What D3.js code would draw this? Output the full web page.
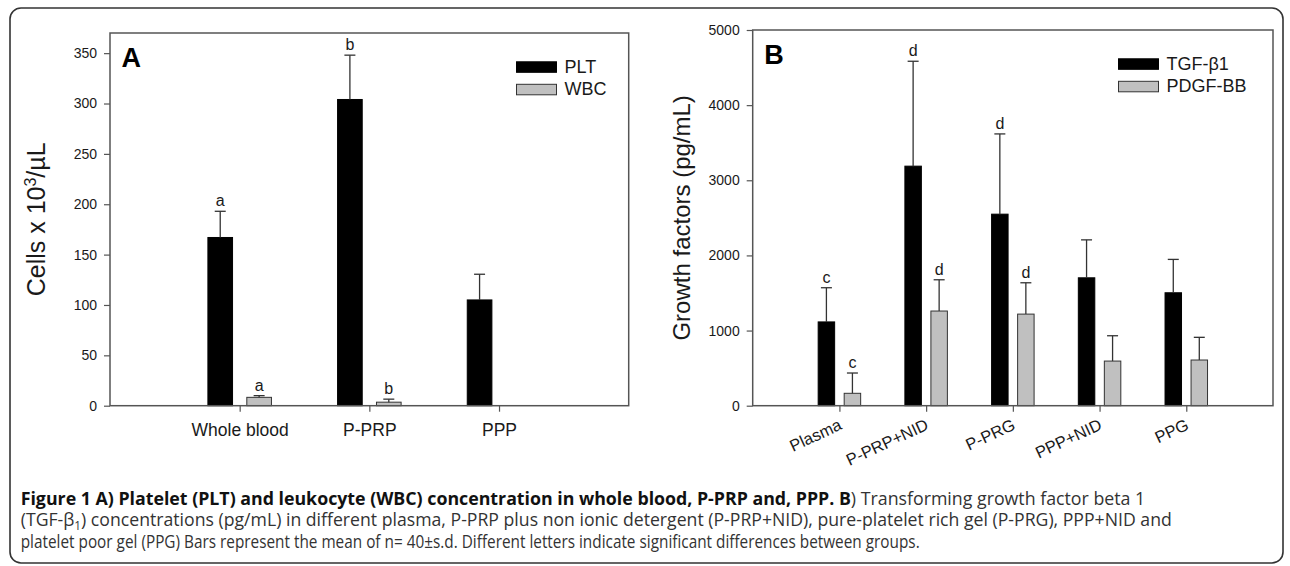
<!DOCTYPE html>
<html>
<head>
<meta charset="utf-8">
<script src="https://cdn.jsdelivr.net/npm/d3@7"></script>
<style>
  body { margin: 0; background: #fff; }
  svg { display: block; }
</style>
</head>
<body>
<div id="chart"></div>
<script>
// panel A: cell counts
const categoriesA = ["Whole blood", "P-PRP", "PPP"];
const pltMean = [167, 304, 105];
const pltSD = [26, 44, 25.5];
const wbcMean = [8.3, 3.5, null];
const wbcSD = [1.7, 3, null];
const lettersPlt = ["a", "b", ""];
const lettersWbc = ["a", "b", ""];
const ticksA = [0, 50, 100, 150, 200, 250, 300, 350];

// panel B: growth factors
const categoriesB = ["Plasma", "P-PRP+NID", "P-PRG", "PPP+NID", "PPG"];
const tgfMean = [1115, 3188, 2549, 1702, 1503];
const tgfSD = [455, 1396, 1068, 505, 444];
const pdgfMean = [165, 1260, 1219, 594, 608];
const pdgfSD = [270, 416, 417, 337, 302];
const lettersTgf = ["c", "d", "d", "", ""];
const lettersPdgf = ["c", "d", "d", "", ""];
const ticksB = [0, 1000, 2000, 3000, 4000, 5000];

const W = 1290, H = 566;
const chartFont = "'Liberation Sans', Arial, sans-serif";
const ink = "#1a1a1a";

const svg = d3.select("#chart").append("svg")
    .attr("width", W)
    .attr("height", H);

// outer rounded box
svg.append("rect")
    .attr("x", 10).attr("y", 8)
    .attr("width", 1273).attr("height", 555)
    .attr("rx", 11)
    .attr("fill", "none")
    .attr("stroke", "#333")
    .attr("stroke-width", 1.6);

function drawPanel(p) {
    const n = p.categories.length;
    const x = d3.scaleLinear().domain([0, n + 1]).range([p.left, p.right]);
    const y = d3.scaleLinear().domain(p.yDomain).range([p.bottom, p.top]);
    const step = x(1) - x(0);
    const bw = step * 0.19;
    const off = step * 0.15;

    const g = svg.append("g").style("font-family", chartFont);

    // y axis
    g.append("g")
        .attr("transform", `translate(${p.left},0)`)
        .call(d3.axisLeft(y).tickValues(p.ticks).tickSize(6).tickPadding(7).tickFormat(d3.format("d")))
        .call(a => a.select(".domain").remove())
        .call(a => a.selectAll("line").attr("stroke", "#555").attr("stroke-width", 1.2))
        .call(a => a.selectAll("text").attr("fill", ink).style("font-size", "14px"));

    // x axis
    const xa = g.append("g")
        .attr("transform", `translate(0,${p.bottom})`)
        .call(d3.axisBottom(x).tickValues(d3.range(1, n + 1))
            .tickFormat(i => p.categories[i - 1]).tickSize(6).tickPadding(12))
        .call(a => a.select(".domain").remove())
        .call(a => a.selectAll("line").attr("stroke", "#555").attr("stroke-width", 1.2));
    xa.selectAll("text").attr("fill", ink).style("font-size", p.catSize + "px");
    if (p.rotate) {
        xa.selectAll("text")
            .attr("x", 0).attr("y", 0).attr("dy", 0)
            .attr("text-anchor", "end")
            .attr("transform", `translate(3,23) rotate(${p.rotate})`);
    }

    // bars
    p.series.forEach((s, si) => {
        const dx = si === 0 ? -off : off;
        const rows = s.mean.map((m, i) => ({ i, m, sd: s.sd[i], letter: s.letters[i] }))
            .filter(d => d.m != null);

        g.append("g").selectAll("rect")
            .data(rows)
            .join("rect")
            .attr("x", d => x(d.i + 1) + dx - bw / 2)
            .attr("y", d => y(d.m))
            .attr("width", bw)
            .attr("height", d => y(0) - y(d.m))
            .attr("fill", s.color)
            .attr("stroke", s.stroke)
            .attr("stroke-width", 1);

        const eb = g.append("g").attr("stroke", "#333").attr("stroke-width", 1.3);
        eb.selectAll("line.v")
            .data(rows)
            .join("line")
            .attr("class", "v")
            .attr("x1", d => x(d.i + 1) + dx).attr("x2", d => x(d.i + 1) + dx)
            .attr("y1", d => y(d.m)).attr("y2", d => y(d.m + d.sd));
        eb.selectAll("line.c")
            .data(rows)
            .join("line")
            .attr("class", "c")
            .attr("x1", d => x(d.i + 1) + dx - 5.5).attr("x2", d => x(d.i + 1) + dx + 5.5)
            .attr("y1", d => y(d.m + d.sd)).attr("y2", d => y(d.m + d.sd));

        g.append("g").selectAll("text")
            .data(rows.filter(d => d.letter))
            .join("text")
            .attr("x", d => x(d.i + 1) + dx)
            .attr("y", d => y(d.m + d.sd) - 5)
            .attr("text-anchor", "middle")
            .attr("fill", ink)
            .style("font-size", "16px")
            .text(d => d.letter);
    });

    // frame
    g.append("rect")
        .attr("x", p.left).attr("y", p.top)
        .attr("width", p.right - p.left).attr("height", p.bottom - p.top)
        .attr("fill", "none")
        .attr("stroke", "#555")
        .attr("stroke-width", 1.5);

    // panel letter
    g.append("text")
        .attr("x", p.left + 11.5).attr("y", p.top + 33.5)
        .attr("fill", "#000")
        .style("font-size", "27px").style("font-weight", "bold")
        .text(p.label);

    // y title
    const t = g.append("text")
        .attr("transform", `translate(${p.left - p.titleGap},${(p.top + p.bottom) / 2}) rotate(-90)`)
        .attr("text-anchor", "middle")
        .attr("fill", ink)
        .style("font-size", p.titleSize + "px");
    p.title(t);

    // legend
    p.series.forEach((s, si) => {
        const ly = p.legend.y + si * 22.5;
        g.append("rect")
            .attr("x", p.legend.x).attr("y", ly)
            .attr("width", 40).attr("height", 10.5)
            .attr("fill", s.color)
            .attr("stroke", s.stroke).attr("stroke-width", 1);
        g.append("text")
            .attr("x", p.legend.x + 48).attr("y", ly + 11)
            .attr("fill", ink)
            .style("font-size", "18px")
            .text(s.name);
    });
}

drawPanel({
    categories: categoriesA,
    left: 110, right: 628.7, top: 33, bottom: 405.7,
    yDomain: [0, 370], ticks: ticksA,
    catSize: 17.5, rotate: 0,
    label: "A",
    titleGap: 65, titleSize: 25,
    title: t => {
        t.append("tspan").text("Cells x 10");
        t.append("tspan").attr("dy", -9).style("font-size", "16px").text("3");
        t.append("tspan").attr("dy", 9).text("/\u00b5L");
    },
    legend: { x: 516.5, y: 61.8 },
    series: [
        { name: "PLT", mean: pltMean, sd: pltSD, letters: lettersPlt, color: "#000", stroke: "#000" },
        { name: "WBC", mean: wbcMean, sd: wbcSD, letters: lettersWbc, color: "#c0c0c0", stroke: "#333" }
    ]
});

drawPanel({
    categories: categoriesB,
    left: 752.7, right: 1273, top: 30, bottom: 405.7,
    yDomain: [0, 5000], ticks: ticksB,
    catSize: 16.5, rotate: -25,
    label: "B",
    titleGap: 62.7, titleSize: 24,
    title: t => t.text("Growth factors (pg/mL)"),
    legend: { x: 1118.5, y: 58.8 },
    series: [
        { name: "TGF-\u03b21", mean: tgfMean, sd: tgfSD, letters: lettersTgf, color: "#000", stroke: "#000" },
        { name: "PDGF-BB", mean: pdgfMean, sd: pdgfSD, letters: lettersPdgf, color: "#c0c0c0", stroke: "#333" }
    ]
});

// caption
const captionLines = [
    { y: 504.5, end: 1146, parts: [
        { t: "Figure 1 A) Platelet (PLT) and leukocyte (WBC) concentration in whole blood, P-PRP and, PPP. B", b: true },
        { t: ") Transforming growth factor beta 1" }
    ] },
    { y: 526, end: 1172, parts: [
        { t: "(TGF-\u03b2" },
        { t: "1", sub: true },
        { t: ") concentrations (pg/mL) in different plasma, P-PRP plus non ionic detergent (P-PRP+NID), pure-platelet rich gel (P-PRG), PPP+NID and" }
    ] },
    { y: 547.5, end: 920, parts: [
        { t: "platelet poor gel (PPG) Bars represent the mean of n= 40\u00b1s.d. Different letters indicate significant differences between groups." }
    ] }
];

const capX = 20.7;
captionLines.forEach(line => {
    const txt = svg.append("text")
        .attr("x", 0).attr("y", 0)
        .style("font-family", "'Open Sans', sans-serif")
        .style("font-size", "18px");
    line.parts.forEach((part, pi) => {
        const ts = txt.append("tspan")
            .attr("fill", part.b ? "#111" : "#333")
            .style("font-weight", part.b ? "bold" : "normal")
            .text(part.t);
        if (part.sub) {
            ts.attr("dy", 4).style("font-size", "12px");
        } else if (pi > 0 && line.parts[pi - 1].sub) {
            ts.attr("dy", -4);
        }
    });
    const w = txt.node().getComputedTextLength();
    const k = (line.end - capX) / w;
    txt.attr("transform", `translate(${capX},${line.y}) scale(${k},1)`);
});
</script>
</body>
</html>
